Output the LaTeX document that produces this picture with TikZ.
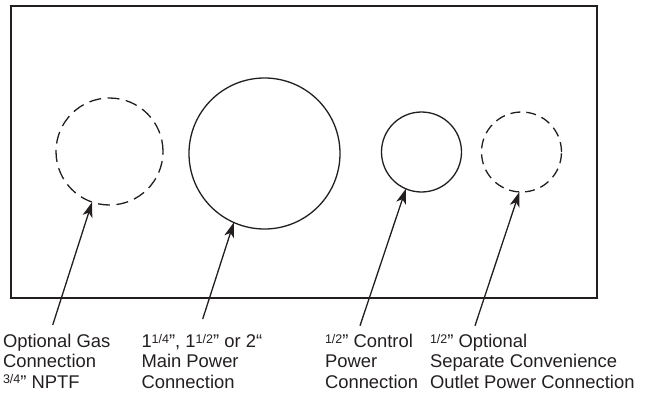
\documentclass[tikz,border=0pt]{standalone}
\usepackage{fontspec}
\setmainfont{Liberation Sans}
\usetikzlibrary{arrows.meta}
\definecolor{ink}{HTML}{231F20}
\newcommand\supfrac[2]{\raisebox{4.2pt}{\fontsize{12.5}{12.5}\selectfont #1/#2}}
\tikzset{
  port/.style={circle, draw=ink, line width=1.3pt, inner sep=0pt, outer sep=0pt},
  dashport/.style={port, dash pattern=on 12pt off 6.5pt},
  pointer/.style={draw=ink, fill=ink, line width=1.3pt, -{Stealth[length=15pt,width=10pt,inset=4pt]}},
  label/.style={anchor=base west, inner sep=0pt, outer sep=0pt, text=ink,
    font=\fontsize{18.4}{20.3}\selectfont},
}
\begin{document}
\begin{tikzpicture}[x=1pt,y=-1pt]
\useasboundingbox (0,0) rectangle (647,396);
\node[draw=ink, line width=1.6pt, minimum width=586pt, minimum height=292pt, inner sep=0pt, anchor=north west] (panel) at (10,5) {};
\node[dashport, minimum size=107pt] (gas) at (109.5,151.5) {};
\node[port, minimum size=151pt] (main) at (264.5,153.5) {};
\node[port, minimum size=80pt] (ctrl) at (421.5,152) {};
\node[dashport, minimum size=80pt, dash pattern=on 10pt off 6pt] (conv) at (521.5,152) {};
\coordinate (t1) at (52.7,325);
\coordinate (t2) at (202.7,319);
\coordinate (t3) at (360,325.7);
\coordinate (t4) at (475,325.7);
\draw[pointer] (t1) -- (gas.251.6);
\draw[pointer] (t2) -- (main.246.8);
\draw[pointer] (t3) -- (ctrl.247);
\draw[pointer] (t4) -- (conv.267);
\node[label] (l1) at (3,347.5) {\begin{tabular}[t]{@{}l@{}}Optional Gas\\Connection\\\supfrac34” NPTF\end{tabular}};
\node[label] (l2) at (141.5,347.5) {\begin{tabular}[t]{@{}l@{}}1\supfrac14”, 1\supfrac12” or 2“\\Main Power\\Connection\end{tabular}};
\node[label] (l3) at (325,347.5) {\begin{tabular}[t]{@{}l@{}}\supfrac12” Control\\Power\\Connection\end{tabular}};
\node[label] (l4) at (430,347.5) {\begin{tabular}[t]{@{}l@{}}\supfrac12” Optional\\Separate Convenience\\Outlet Power Connection\end{tabular}};
\end{tikzpicture}
\end{document}
